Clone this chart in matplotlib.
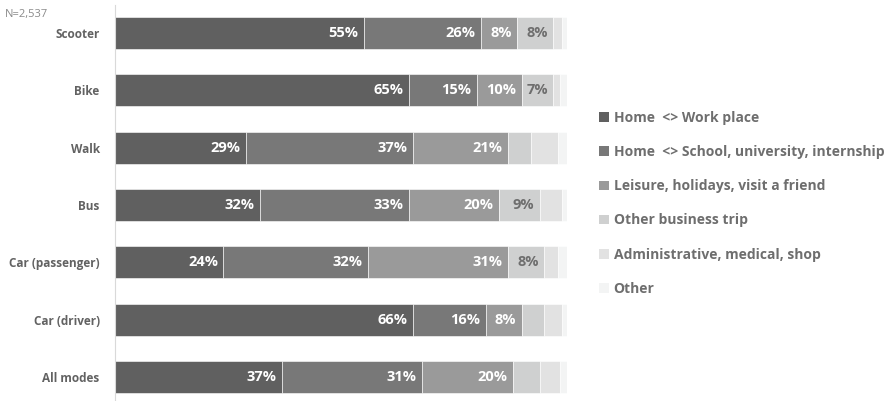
import numpy as np
import matplotlib.pyplot as plt
from matplotlib.patches import Patch

# -----------------------------
# Data (share of trips, %)
# -----------------------------
modes = ["Scooter", "Bike", "Walk", "Bus", "Car (passenger)", "Car (driver)", "All modes"]
purposes = [
    "Home  <> Work place",
    "Home  <> School, university, internship",
    "Leisure, holidays, visit a friend",
    "Other business trip",
    "Administrative, medical, shop",
    "Other",
]
work = [55, 65, 29, 32, 24, 66, 37]
school = [26, 15, 37, 33, 32, 16, 31]
leisure = [8, 10, 21, 20, 31, 8, 20]
business = [8, 7, 5, 9, 8, 5, 6]
admin = [2, 1.5, 6, 5, 3, 4, 4.5]
other = [1, 1.5, 2, 1, 2, 1, 1.5]
n_label = "N=2,537"

series = [work, school, leisure, business, admin, other]
colors = ["#606060", "#787878", "#9a9a9a", "#cfd0d0", "#e2e2e2", "#f3f4f4"]
label_colors = ["white", "white", "white", "#6e6e6e", None, None]
font = "Open Sans"

# -----------------------------
# Plot
# -----------------------------
fig = plt.figure(figsize=(8.96, 4.01), dpi=100)
ax = fig.add_axes([115 / 896, 0, (567 - 115) / 896, 396 / 401])

y = np.arange(len(modes))
left = np.zeros(len(modes))
for vals, col, tcol in zip(series, colors, label_colors):
    vals = np.array(vals, dtype=float)
    ax.barh(y, vals, left=left, height=0.56, color=col,
            edgecolor="white", linewidth=0.4)
    if tcol is not None:
        for yi, l, v in zip(y, left, vals):
            if v >= 7:
                ax.text(l + v - 1.2, yi, f"{v:.0f}%", ha="right", va="center",
                        fontsize=10.5, color=tcol, fontweight="bold", family=font)
    left += vals

ax.set_xlim(0, 100)
ax.set_ylim(6.42, -0.49)
ax.set_yticks(y)
ax.set_yticklabels(modes, fontsize=8.5, color="#626262", fontweight="bold", family=font)
ax.tick_params(axis="y", length=0, pad=11)
ax.set_xticks([])
for side in ["top", "right", "bottom"]:
    ax.spines[side].set_visible(False)
ax.spines["left"].set_color("#d9d9d9")
ax.spines["left"].set_linewidth(0.8)

fig.text(5 / 896, 1 - 15 / 401, n_label, fontsize=8, color="#8a8a8a",
         va="center", ha="left", family=font)

handles = [Patch(facecolor=c, edgecolor="none") for c in colors]
leg = fig.legend(handles, purposes, loc="upper left",
                 bbox_to_anchor=(592 / 896, 1 - 104 / 401), frameon=False,
                 handlelength=0.7, handleheight=0.7, handletextpad=0.35,
                 labelspacing=1.45, borderpad=0,
                 prop={"family": font, "size": 10, "weight": "bold"})
for t in leg.get_texts():
    t.set_color("#6e6e6e")

fig.savefig("out.png", dpi=100)
